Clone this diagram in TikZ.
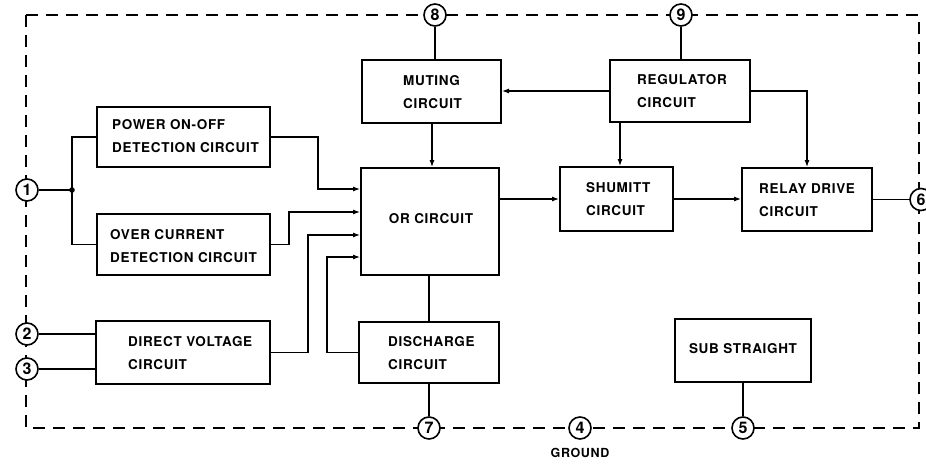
\documentclass[tikz,border=0pt]{standalone}
\usepackage{fontspec}
\setmainfont{TeX Gyre Heros}
\newfontfamily\lblfont[LetterSpace=5]{TeX Gyre Heros}
\usetikzlibrary{arrows.meta,calc}
\begin{document}
\begin{tikzpicture}[x=1pt,y=-1pt,
  box/.style={draw,line width=2pt,inner sep=0pt},
  lbl/.style={anchor=west,align=left,inner sep=0pt,font=\lblfont\fontsize{13.5}{23}\selectfont\bfseries},
  clbl/.style={align=center,inner sep=0pt,font=\lblfont\fontsize{13.5}{23}\selectfont\bfseries},
  pinc/.style={draw,circle,line width=1.6pt,fill=white,minimum size=22pt,inner sep=0pt,font=\fontsize{16}{16}\selectfont\bfseries},
  wire/.style={line width=1.1pt},
  arr/.style={wire,-{Latex[length=7pt,width=5pt]}},
  border/.style={line width=1.4pt,dash pattern=on 12pt off 8pt}]
\useasboundingbox (0,0) rectangle (926,466);
% dashed outline
\draw[border] (26,15) rectangle (919,428);
% boxes
\node[box,minimum width=173pt,minimum height=60pt] (pow) at (183.5,137) {};
\node[box,minimum width=173pt,minimum height=61pt] (ovr) at (183.5,244.5) {};
\node[box,minimum width=174pt,minimum height=63pt] (dv) at (183,352.5) {};
\node[box,minimum width=138pt,minimum height=107pt] (or) at (430,221.5) {};
\node[box,minimum width=140pt,minimum height=61pt] (dis) at (429,352.5) {};
\node[box,minimum width=139pt,minimum height=63pt] (mut) at (431.5,91.5) {};
\node[box,minimum width=140pt,minimum height=62pt] (reg) at (680,91) {};
\node[box,minimum width=113pt,minimum height=64pt] (shu) at (616.5,199) {};
\node[box,minimum width=130pt,minimum height=63pt] (rel) at (807,199.5) {};
\node[box,minimum width=136pt,minimum height=63pt] (sub) at (743,350.5) {};
% texts
\node[lbl] (powt) at (112,136.5) {POWER ON-OFF\\DETECTION CIRCUIT};
\node[lbl] (ovrt) at (110,246) {OVER CURRENT\\DETECTION CIRCUIT};
\node[lbl] (dvt) at (128,353) {DIRECT VOLTAGE\\CIRCUIT};
\node[clbl] (ort) at (431,219) {OR CIRCUIT};
\node[lbl] (dist) at (388,353) {DISCHARGE\\CIRCUIT};
\node[lbl] (mutt) at (403,92.5) {MUTING\\CIRCUIT};
\node[lbl] (regt) at (637,91) {REGULATOR\\CIRCUIT};
\node[lbl] (shut) at (586,199.5) {SHUMITT\\CIRCUIT};
\node[lbl] (relt) at (759,200.5) {RELAY DRIVE\\CIRCUIT};
\node[clbl] (subt) at (743,349) {SUB STRAIGHT};
% pins
\node[pinc] (p1) at (27,190) {1};
\node[pinc] (p2) at (27,334) {2};
\node[pinc] (p3) at (27,369) {3};
\node[pinc] (p8) at (435,15) {8};
\node[pinc] (p9) at (681,15) {9};
\node[pinc] (p7) at (429,428) {7};
\node[pinc] (p4) at (580,428) {4};
\node[pinc] (p5) at (743,428) {5};
\node[pinc] (p6) at (921,199.5) {6};
\node[inner sep=0pt,font=\lblfont\fontsize{12.5}{12.5}\selectfont\bfseries] (gnd) at (580,453) {GROUND};
% junction at pin 1
\coordinate (j1) at (72,190);
\fill (j1) circle (2.8pt);
\draw[wire] (p1) -- (j1);
\draw[wire] (j1) |- (pow.west);
\draw[wire] (j1) |- (ovr.west);
% inputs to OR
\draw[arr] (pow.east) -- ++(47,0) |- ($(or.north west)+(0,22)$);
\draw[arr] (ovr.east) -- ++(18,0) |- ($(or.north west)+(0,45)$);
\draw[arr] (dv.east) -- ++(37,0) |- ($(or.north west)+(0,68)$);
\draw[arr] (dis.west) -- ++(-31,0) |- ($(or.north west)+(0,90)$);
% pins 2,3
\draw[wire] (p2) -- (p2 -| dv.west);
\draw[wire] (p3) -- (p3 -| dv.west);
% muting / regulator
\draw[wire] (p8) -- (p8 |- mut.north);
\draw[wire] (p9) -- (p9 |- reg.north);
\draw[arr] (reg.west) -- (reg.west -| mut.east);
\coordinate (ms) at ($(mut.south west)+(71,0)$);
\draw[arr] (ms) -- (ms |- or.north);
\coordinate (rs) at ($(reg.south west)+(11,0)$);
\draw[arr] (rs) -- (rs |- shu.north);
\coordinate (rr) at ($(rel.north west)+(66,0)$);
\draw[arr] (reg.east) -| (rr);
% main chain
\draw[arr] (or.east |- shu.west) -- (shu.west);
\draw[arr] (shu.east) -- (shu.east -| rel.west);
\draw[wire] (rel.east) -- (p6);
% discharge
\coordinate (os) at ($(or.south west)+(69,0)$);
\draw[wire] (os) -- (os |- dis.north);
\draw[wire] (dis.south) -- (p7);
\draw[wire] (sub.south) -- (p5);
\end{tikzpicture}
\end{document}
